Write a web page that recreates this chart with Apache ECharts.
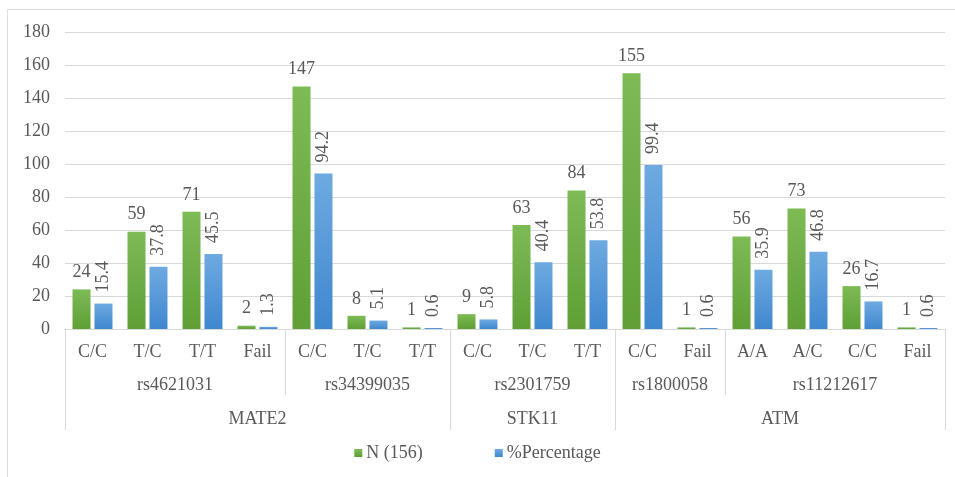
<!DOCTYPE html>
<html>
<head>
<meta charset="utf-8">
<title>Genotype distribution</title>
<script src="https://cdn.jsdelivr.net/npm/echarts@6/dist/echarts.min.js"></script>
<style>
  html, body { margin: 0; padding: 0; background: #ffffff; }
  #chart { width: 955px; height: 477px; }
</style>
</head>
<body>
<div id="chart"></div>
<script>
// Genotype level (one entry per bar pair)
const genotypes = ['C/C', 'T/C', 'T/T', 'Fail', 'C/C', 'T/C', 'T/T', 'C/C', 'T/C', 'T/T', 'C/C', 'Fail', 'A/A', 'A/C', 'C/C', 'Fail'];
// SNP level: name and number of genotypes it spans
const snpNames = ['rs4621031', 'rs34399035', 'rs2301759', 'rs1800058', 'rs11212617'];
const snpSpans = [4, 3, 3, 2, 4];
// Gene level: name and number of genotypes it spans
const geneNames = ['MATE2', 'STK11', 'ATM'];
const geneSpans = [7, 3, 6];
// Series values
const countN = [24, 59, 71, 2, 147, 8, 1, 9, 63, 84, 155, 1, 56, 73, 26, 1];
const percentage = [15.4, 37.8, 45.5, 1.3, 94.2, 5.1, 0.6, 5.8, 40.4, 53.8, 99.4, 0.6, 35.9, 46.8, 16.7, 0.6];
// Value axis ticks
const yMin = 0, yMax = 180, yStep = 20;

const textColor = '#595959';
const lineColor = '#d9d9d9';
const font = '"Liberation Serif", "Times New Roman", serif';

// Build a half-step category axis (2n+1 points) so group labels can sit
// at group centres and ticks at group boundaries.
function groupAxis(names, spans) {
  const total = spans.reduce((a, b) => a + b, 0);
  const labels = new Array(total * 2 + 1).fill('');
  const bounds = new Set([0]);
  let pos = 0;
  names.forEach((name, i) => {
    labels[pos * 2 + spans[i]] = name;
    pos += spans[i];
    bounds.add(pos * 2);
  });
  return { keys: labels.map((_, i) => 'p' + i), labels, bounds };
}

const snpAxis = groupAxis(snpNames, snpSpans);
const geneAxis = groupAxis(geneNames, geneSpans);

function levelAxis(level, margin, tickLen) {
  return {
    type: 'category',
    gridIndex: 0,
    position: 'bottom',
    boundaryGap: false,
    data: level.keys,
    axisLine: { show: false },
    axisTick: {
      show: true,
      length: tickLen,
      interval: (idx) => level.bounds.has(idx),
      lineStyle: { color: lineColor, width: 1 }
    },
    axisLabel: {
      interval: 0,
      margin: margin,
      color: textColor,
      fontFamily: font,
      fontSize: 18,
      formatter: (v, idx) => level.labels[idx]
    },
    splitLine: { show: false }
  };
}

const chart = echarts.init(document.getElementById('chart'), null, { renderer: 'canvas' });

chart.setOption({
  backgroundColor: '#ffffff',
  animation: false,
  textStyle: { fontFamily: font },
  graphic: [{
    type: 'rect',
    silent: true,
    shape: { x: 7.5, y: 9.5, width: 1000, height: 500 },
    style: { fill: 'none', stroke: '#dedede', lineWidth: 1 }
  }],
  grid: { left: 65, right: 10, top: 32, bottom: 148, containLabel: false },
  legend: {
    bottom: 10,
    left: 'center',
    icon: 'rect',
    itemWidth: 8,
    itemHeight: 8,
    itemGap: 72,
    textStyle: { color: textColor, fontFamily: font, fontSize: 18, padding: [0, 0, 0, -1] },
    data: ['N (156)', '%Percentage']
  },
  xAxis: [
    {
      type: 'category',
      gridIndex: 0,
      position: 'bottom',
      data: genotypes,
      axisLine: { show: true, lineStyle: { color: lineColor, width: 1 } },
      axisTick: { show: false },
      axisLabel: { interval: 0, margin: 14, color: textColor, fontFamily: font, fontSize: 18 }
    },
    levelAxis(snpAxis, 47, 66),
    levelAxis(geneAxis, 81, 101)
  ],
  yAxis: {
    type: 'value',
    min: yMin,
    max: yMax,
    interval: yStep,
    axisLine: { show: false },
    axisTick: { show: false },
    axisLabel: { margin: 15, color: textColor, fontFamily: font, fontSize: 18 },
    splitLine: { lineStyle: { color: lineColor, width: 1 } }
  },
  series: [
    {
      name: 'N (156)',
      type: 'bar',
      xAxisIndex: 0,
      data: countN,
      barWidth: 18,
      barGap: '22%',
      itemStyle: {
        color: new echarts.graphic.LinearGradient(0, 0, 0, 1, [
          { offset: 0, color: '#7dbb55' },
          { offset: 1, color: '#5f9f36' }
        ])
      },
      label: {
        show: true,
        position: 'top',
        distance: 8,
        color: textColor,
        fontFamily: font,
        fontSize: 18
      }
    },
    {
      name: '%Percentage',
      type: 'bar',
      xAxisIndex: 0,
      data: percentage,
      barWidth: 18,
      itemStyle: {
        color: new echarts.graphic.LinearGradient(0, 0, 0, 1, [
          { offset: 0, color: '#6eaae1' },
          { offset: 1, color: '#3f87cf' }
        ])
      },
      label: {
        show: true,
        position: 'top',
        distance: 11,
        rotate: 90,
        align: 'left',
        verticalAlign: 'middle',
        color: textColor,
        fontFamily: font,
        fontSize: 18,
        formatter: (p) => p.value.toFixed(1)
      }
    }
  ]
});
</script>
</body>
</html>
